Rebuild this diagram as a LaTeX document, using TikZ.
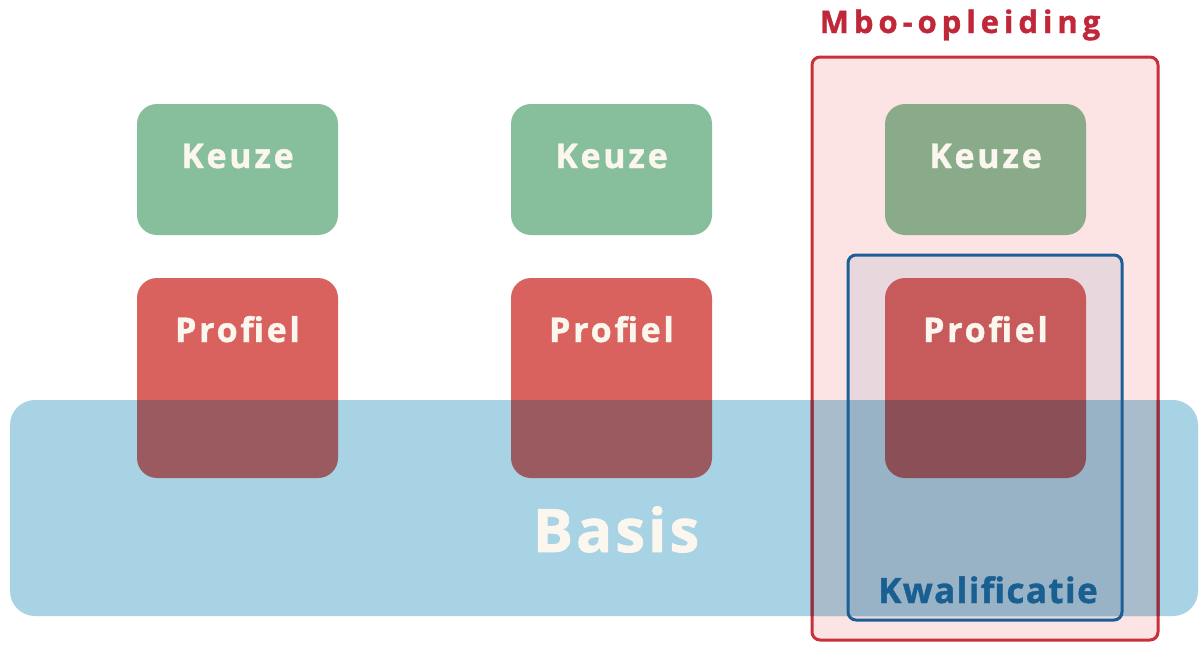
\documentclass[tikz,border=0pt]{standalone}
\usepackage{fontspec}
\newfontfamily\fkeuze{Open Sans}[LetterSpace=8, BoldFeatures={FakeBold=1.2}]
\newfontfamily\fmbo{Open Sans}[LetterSpace=16, BoldFeatures={FakeBold=1.2}]
\newfontfamily\fkwal{Open Sans}[LetterSpace=4, BoldFeatures={FakeBold=1.2}]
\newfontfamily\fbasis{Open Sans}[LetterSpace=5, BoldFeatures={FakeBold=1.2}]
\definecolor{keuzeG}{HTML}{87BE9B}
\definecolor{keuzeGm}{HTML}{8AAB8A}
\definecolor{profR}{HTML}{D9625E}
\definecolor{profRm}{HTML}{C75A5B}
\definecolor{overR}{HTML}{9A5A60}
\definecolor{overRm}{HTML}{8B4F58}
\definecolor{bandB}{HTML}{A7D3E5}
\definecolor{bandM}{HTML}{A9BCCB}
\definecolor{bandK}{HTML}{98B2C6}
\definecolor{pinkF}{HTML}{FBE4E3}
\definecolor{kwalF}{HTML}{E8D8DE}
\definecolor{mboRed}{HTML}{C9303B}
\definecolor{mboRedD}{HTML}{8E3243}
\definecolor{kwalBlue}{HTML}{1C5F96}
\definecolor{txtW}{HTML}{FBF6EE}
\definecolor{mboTxt}{HTML}{C0283A}
\definecolor{kwalTxt}{HTML}{1A5F92}
\tikzset{
  keuzebox/.style={fill=keuzeG, rounded corners=20pt, minimum width=201pt, minimum height=131pt, inner sep=0pt},
  profbox/.style={fill=profR, rounded corners=20pt, minimum width=201pt, minimum height=200pt, inner sep=0pt},
  wlabel/.style={text=txtW, font=\fkeuze\bfseries\fontsize{34}{34}\selectfont, anchor=base, inner sep=0pt},
}
\begin{document}
\begin{tikzpicture}[x=1pt,y=-1pt]
\useasboundingbox (0,0) rectangle (1201,645);
\fill[white] (0,0) rectangle (1201,645);
% Mbo-opleiding frame fill
\fill[pinkF, rounded corners=8pt] (812,57) rectangle (1158,640);
% Keuze boxes
\node[keuzebox] (k1) at (237.5,169.5) {};
\node[keuzebox] (k2) at (611.5,169.5) {};
\node[keuzebox, fill=keuzeGm] (k3) at (985.5,169.5) {};
% Kwalificatie frame fill
\fill[kwalF, rounded corners=8pt] (848,255) rectangle (1122,620);
% Profiel boxes
\node[profbox] (p1) at (237.5,378) {};
\node[profbox] (p2) at (611.5,378) {};
\node[profbox, fill=profRm] (p3) at (985.5,378) {};
% Basis band
\fill[bandB, rounded corners=25pt] (10,400) rectangle (1198,616);
\begin{scope}
  \clip[rounded corners=8pt] (812,57) rectangle (1158,640);
  \fill[bandM, rounded corners=25pt] (10,400) rectangle (1198,616);
  \clip[rounded corners=8pt] (848,255) rectangle (1122,620);
  \fill[bandK, rounded corners=25pt] (10,400) rectangle (1198,616);
\end{scope}
% overlaps of Profiel with band
\begin{scope}
  \clip[rounded corners=25pt] (10,400) rectangle (1198,616);
  \fill[overR, rounded corners=20pt] (137,278) rectangle (338,478);
  \fill[overR, rounded corners=20pt] (511,278) rectangle (712,478);
  \fill[overRm, rounded corners=20pt] (885,278) rectangle (1086,478);
\end{scope}
% frames
\draw[mboRed, line width=3pt, rounded corners=8pt] (812,57) rectangle (1158,640);
\begin{scope}
  \clip[rounded corners=25pt] (10,400) rectangle (1198,616);
  \draw[mboRedD, line width=3pt, rounded corners=8pt] (812,57) rectangle (1158,640);
\end{scope}
\draw[kwalBlue, line width=3pt, rounded corners=8pt] (848,255) rectangle (1122,620);
% texts
\node[wlabel] (k1t) at (237.5,168) {Keuze};
\node[wlabel] (k2t) at (611.5,168) {Keuze};
\node[wlabel] (k3t) at (985.5,168) {Keuze};
\node[wlabel] (p1t) at (237.5,342) {Profiel};
\node[wlabel] (p2t) at (611.5,342) {Profiel};
\node[wlabel] (p3t) at (985.5,342) {Profiel};
\node[wlabel, font=\fbasis\bfseries\fontsize{60}{60}\selectfont] (basis) at (616,552) {Basis};
\node[anchor=base, inner sep=0pt, text=mboTxt, font=\fmbo\bfseries\fontsize{31}{31}\selectfont] (mbo) at (960,33) {Mbo-opleiding};
\node[anchor=base, inner sep=0pt, text=kwalTxt, font=\fkwal\bfseries\fontsize{35}{35}\selectfont] (kwal) at (988,603) {Kwalificatie};
\end{tikzpicture}
\end{document}
